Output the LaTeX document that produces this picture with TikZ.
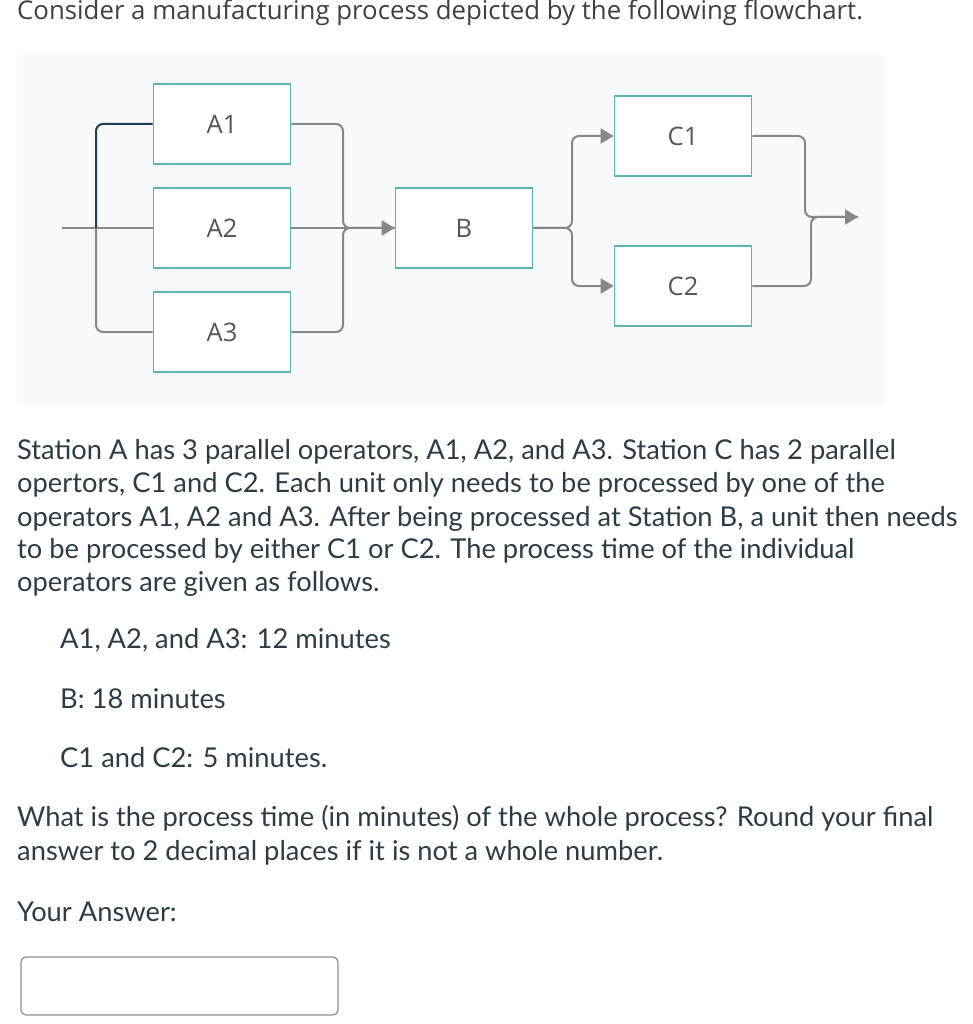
\documentclass[tikz,border=0pt]{standalone}
\usepackage{fontspec}
\setmainfont{Lato}
\newfontfamily\chartfont{Open Sans}
\usetikzlibrary{arrows.meta}

\definecolor{panelbg}{HTML}{F8F9FB}
\definecolor{boxedge}{HTML}{5BB5B5}
\definecolor{linegray}{HTML}{878787}
\definecolor{darkline}{HTML}{1F3B57}
\definecolor{bodytext}{HTML}{2D3B45}
\definecolor{labeltext}{HTML}{555555}
\definecolor{titletext}{HTML}{3F3F3F}
\definecolor{fieldedge}{HTML}{8C9297}

\tikzset{
	opbox/.style={draw=boxedge, line width=1.6pt, fill=white, minimum width=137pt,
		minimum height=80pt, inner sep=0pt, text=labeltext,
		font=\chartfont\fontsize{25.5}{30}\selectfont},
	link/.style={draw=linegray, line width=2pt, rounded corners=7pt},
	tip/.style={-{Triangle[length=13pt, width=15pt]}},
	bodyline/.style={anchor=base west, inner sep=0pt, text=bodytext,
		font=\fontsize{27.3}{32}\selectfont},
}

\begin{document}
\begin{tikzpicture}[x=1pt, y=-1pt]
	\useasboundingbox (0, 0) rectangle (972, 1024);

	% title
	\node[anchor=base west, inner sep=0pt, text=titletext, font=\chartfont\fontsize{25.8}{30}\selectfont]
	(title) at (17, 20) {Consider a manufacturing process depicted by the following flowchart.};

	% flowchart
	\fill[panelbg] (17, 55) rectangle (884, 405);

	\node[opbox] (A1) at (222, 124) {A1};
	\node[opbox] (A2) at (222, 228) {A2};
	\node[opbox] (A3) at (222, 332) {A3};
	\node[opbox] (B) at (464, 228) {B};
	\node[opbox] (C1) at (683, 136) {C1};
	\node[opbox] (C2) at (683, 286) {C2};

	\coordinate (in) at (62, 228);
	\coordinate (splitA) at (96, 228);
	\coordinate (joinA) at (343, 228);
	\coordinate (splitB) at (572, 228);
	\coordinate (joinC1) at (805, 217);
	\coordinate (joinC2) at (811, 217);
	\coordinate (out) at (858, 217);

	\draw[link] (in) -- (A2.west);
	\draw[link] (splitA) |- (A3.west);
	\draw[link, draw=darkline] (splitA) |- (A1.west);

	\draw[link] (A1.east) -| (joinA) -- (B.west);
	\draw[link] (A3.east) -| (joinA) -- (B.west);
	\draw[link, tip] (A2.east) -- (B.west);

	\draw[link, tip] (B.east) -- (splitB) |- (C1.west);
	\draw[link, tip] (B.east) -- (splitB) |- (C2.west);

	\draw[link] (C2.east) -| (joinC2) -- (out);
	\draw[link, tip] (C1.east) -| (joinC1) -- (out);

	% question text
	\node[bodyline] (p1) at (17, 459) {Station A has 3 parallel operators, A1, A2, and A3. Station C has 2 parallel};
	\node[bodyline] (p2) at (17, 492) {opertors, C1 and C2. Each unit only needs to be processed by one of the};
	\node[bodyline] (p3) at (17, 526) {operators A1, A2 and A3. After being processed at Station B, a unit then needs};
	\node[bodyline] (p4) at (17, 558) {to be processed by either C1 or C2. The process time of the individual};
	\node[bodyline] (p5) at (17, 591) {operators are given as follows.};

	\node[bodyline] (tA) at (60, 648) {A1, A2, and A3: 12 minutes};
	\node[bodyline] (tB) at (60, 708) {B: 18 minutes};
	\node[bodyline] (tC) at (60, 767) {C1 and C2: 5 minutes.};

	\node[bodyline] (q1) at (17, 826) {What is the process time (in minutes) of the whole process? Round your final};
	\node[bodyline] (q2) at (17, 860) {answer to 2 decimal places if it is not a whole number.};

	\node[bodyline] (ans) at (17, 921) {Your Answer:};
	\node[draw=fieldedge, line width=1.3pt, rounded corners=5pt, fill=white,
		minimum width=317pt, minimum height=58pt, inner sep=0pt] (field) at (179.5, 986) {};
\end{tikzpicture}
\end{document}
